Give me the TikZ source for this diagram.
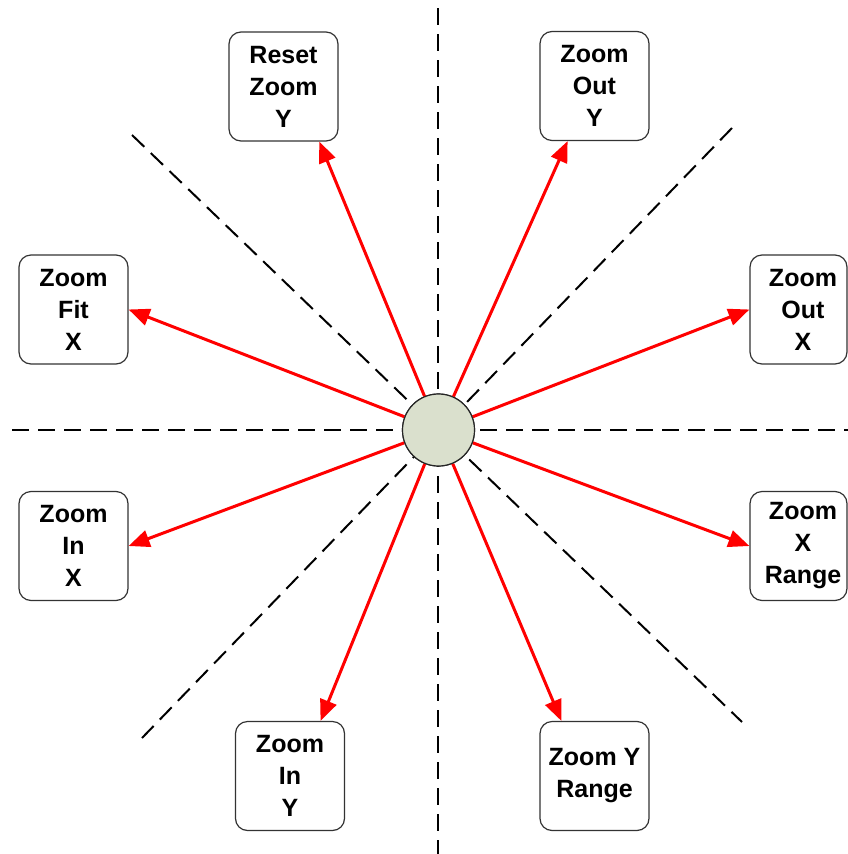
\documentclass[tikz,border=0pt]{standalone}
\usepackage{fontspec}
\setmainfont{Liberation Sans}
\usetikzlibrary{arrows.meta}
\definecolor{hubfill}{RGB}{218,224,205}
\begin{document}
\begin{tikzpicture}[x=1pt,y=-1pt,
  guide/.style={line width=2pt, dash pattern=on 17pt off 9pt, black},
  ray/.style={line width=3pt, red, -{Triangle[length=21pt,width=17pt]}},
  cmdbox/.style={draw=black!80, line width=1.2pt, rounded corners=12pt, fill=white,
    minimum width=109pt, minimum height=109pt, inner sep=0pt, align=center,
    font=\fontsize{25}{32}\selectfont\bfseries},
  hub/.style={circle, draw=black!85, line width=1.2pt, fill=hubfill, minimum size=72pt, inner sep=0pt}]
\useasboundingbox (0,0) rectangle (848,854);
% guide lines
\coordinate (vt) at (438,8);
\coordinate (vb) at (438,854);
\coordinate (hl) at (12,430);
\coordinate (hr) at (848,430);
\coordinate (d1a) at (132,135);
\coordinate (d1b) at (742,722);
\coordinate (d2a) at (732,128);
\coordinate (d2b) at (142,738);
\draw[guide] (vt) -- (vb);
\draw[guide] (hl) -- (hr);
\draw[guide] (d1a) -- (d1b);
\draw[guide] (d2a) -- (d2b);
% boxes
\node[cmdbox] (reset) at (283.5,86.5) {Reset\\Zoom\\Y};
\node[cmdbox] (outy) at (594.5,86) {Zoom\\Out\\Y};
\node[cmdbox] (fitx) at (73.5,309.5) {Zoom\\Fit\\X};
\node[cmdbox, minimum width=97pt] (outx) at (798.5,309.5) {\hspace*{9pt}Zoom\\\hspace*{9pt}Out\\\hspace*{9pt}X};
\node[cmdbox] (inx) at (73.5,546) {Zoom\\In\\X};
\node[cmdbox, minimum width=97pt] (xrange) at (798.5,546) {\hspace*{9pt}Zoom\\\hspace*{9pt}X\\\hspace*{9pt}Range};
\node[cmdbox] (iny) at (290,776) {Zoom\\In\\Y};
\node[cmdbox] (yrange) at (594.5,776) {Zoom Y\\Range};
% hub
\node[hub] (c) at (438.5,430) {};
% rays
\draw[ray] (c) -- (reset.-57.2);
\draw[ray] (c) -- (outy.-116.1);
\draw[ray] (c) -- (fitx.east);
\draw[ray] (c) -- (outx.west);
\draw[ray] (c) -- (inx.east);
\draw[ray] (c) -- (xrange.west);
\draw[ray] (c) -- (iny.61.8);
\draw[ray] (c) -- (yrange.121.8);
\node[hub] at (c) {};
\end{tikzpicture}
\end{document}
